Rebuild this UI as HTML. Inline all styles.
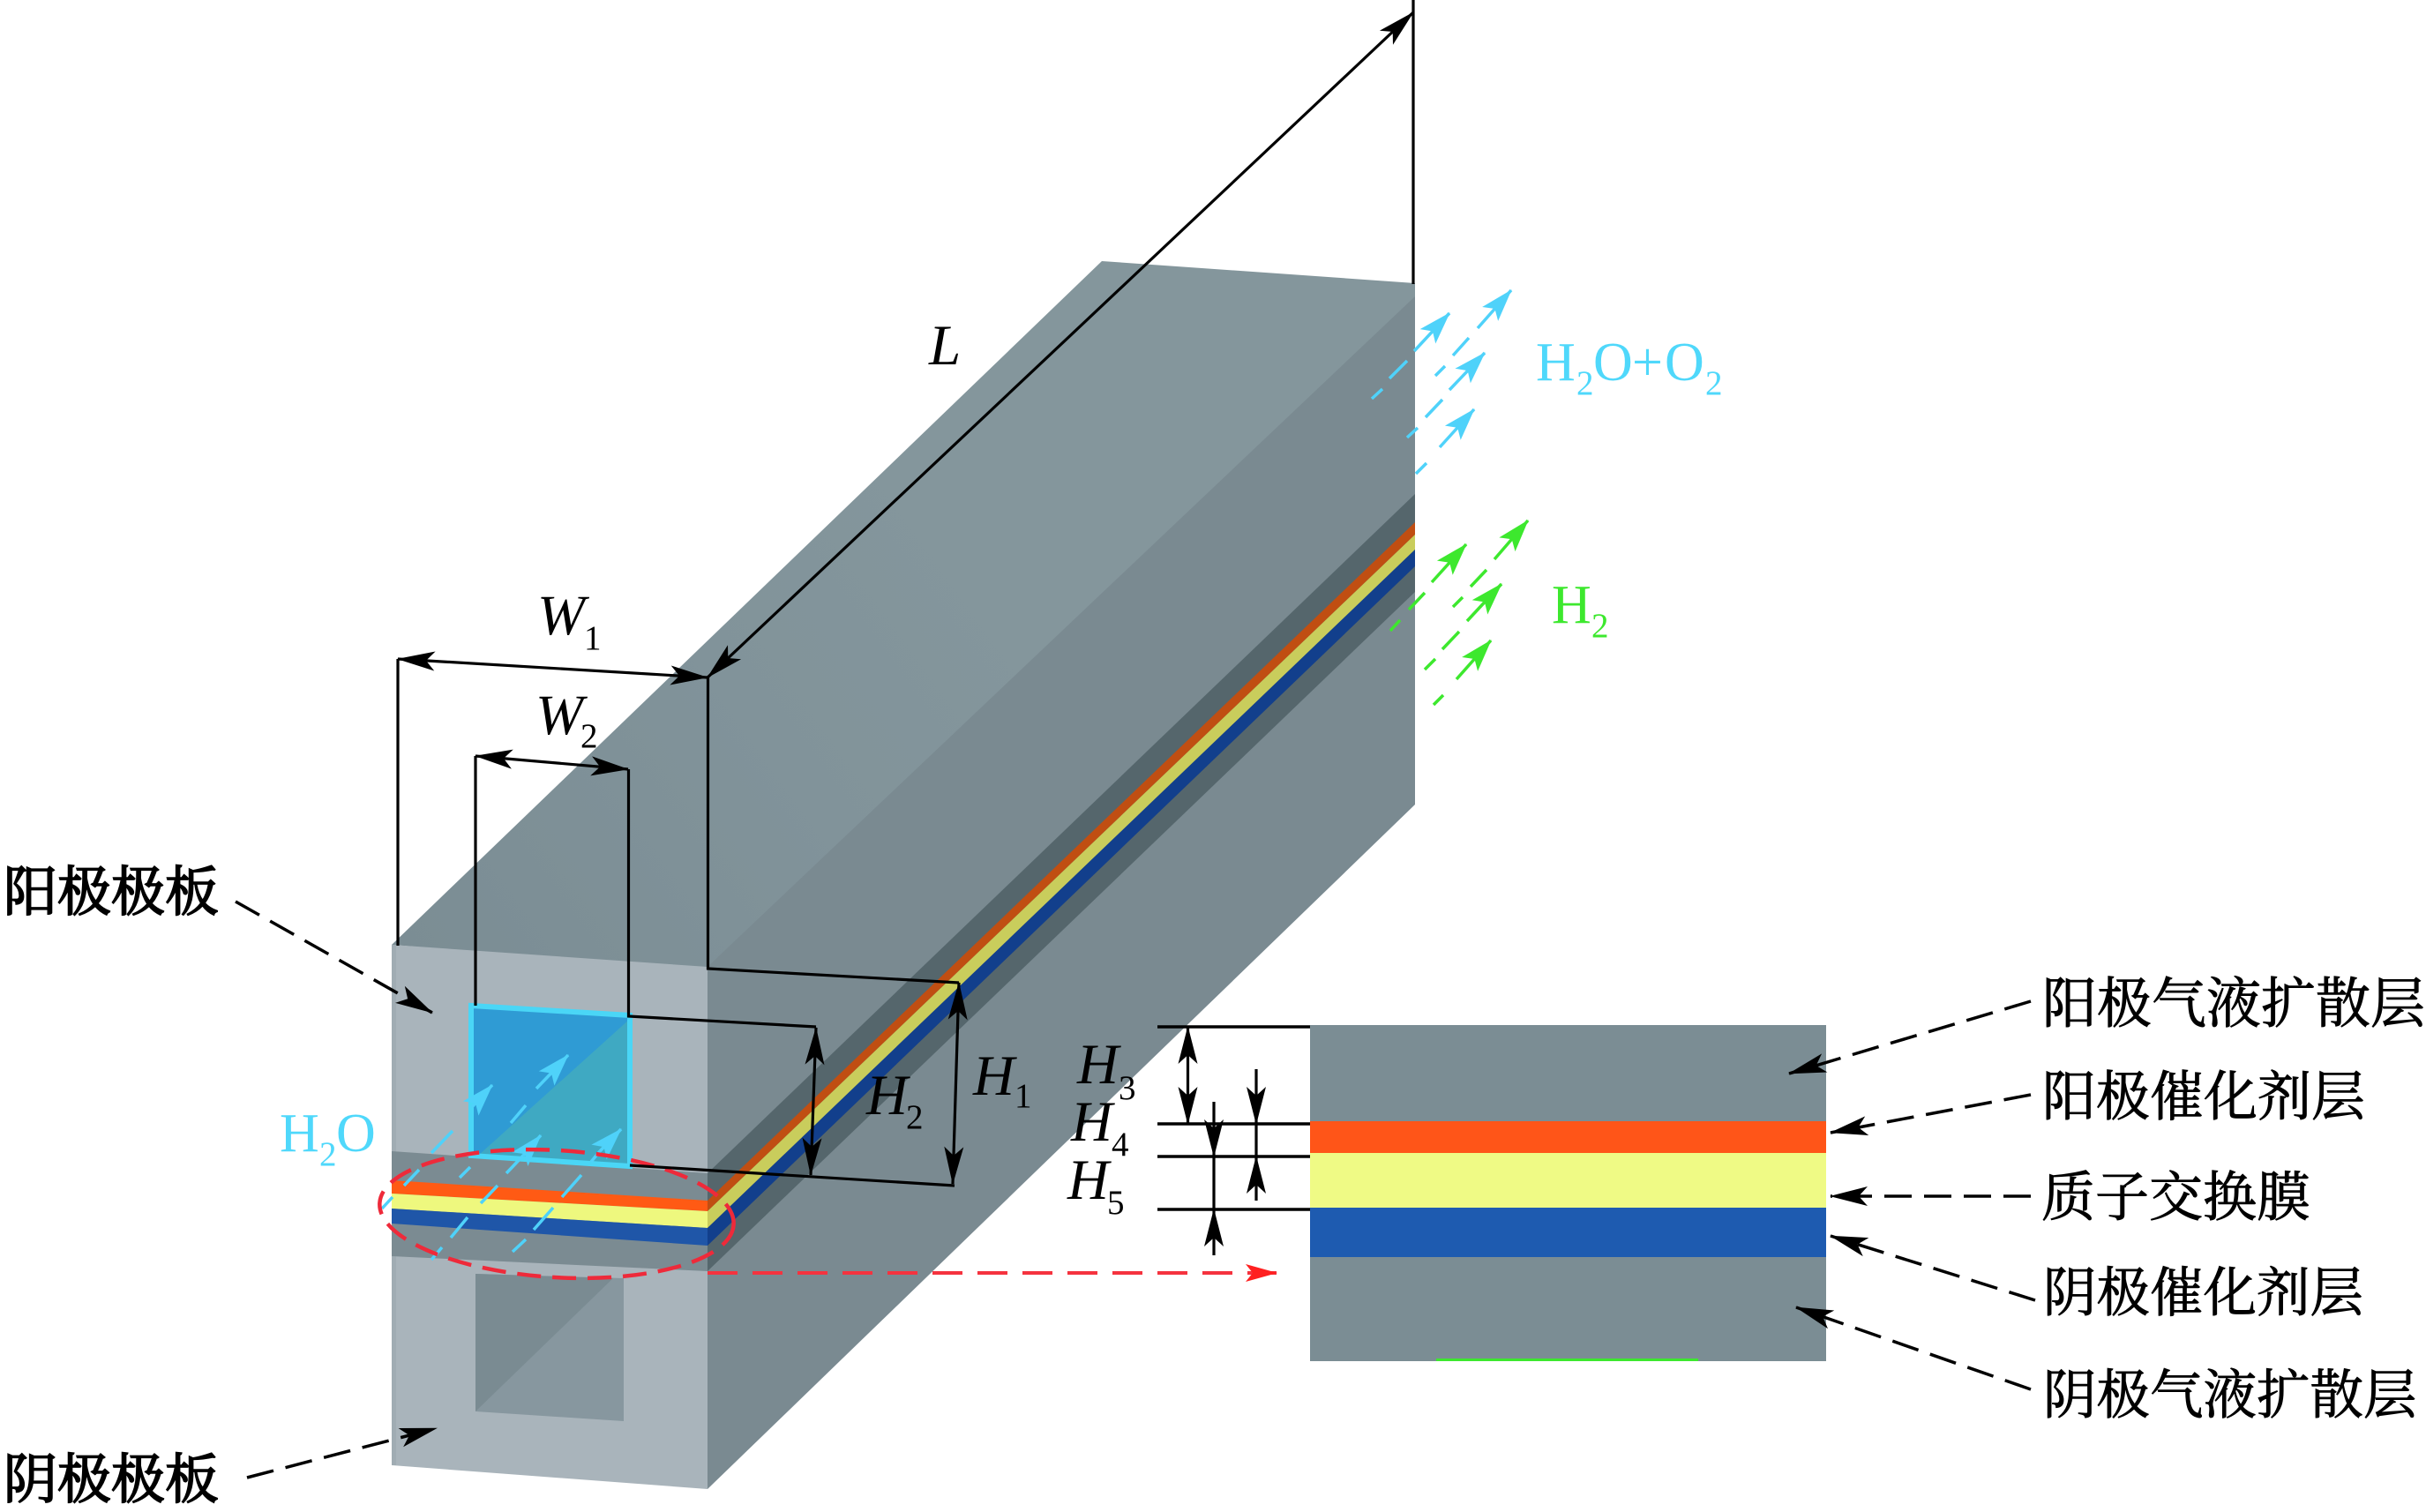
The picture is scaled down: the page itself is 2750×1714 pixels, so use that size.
<!DOCTYPE html>
<html><head><meta charset="utf-8"><style>
html,body{margin:0;padding:0;background:#fff;width:2750px;height:1714px;overflow:hidden}
svg{display:block}
.l{font-family:"Liberation Serif",serif;font-size:62px}
.i{font-style:italic;font-size:65px}
.s{font-family:"Liberation Serif",serif;font-size:39px}
.c{font-family:"Noto Serif CJK SC","Liberation Serif",serif;font-size:61px;fill:#000;stroke:#000;stroke-width:.9px}
</style></head><body>
<svg width="2750" height="1714" viewBox="0 0 2750 1714" xmlns="http://www.w3.org/2000/svg">
<defs>
<linearGradient id="top" x1="450" y1="1070" x2="1100" y2="600" gradientUnits="userSpaceOnUse"><stop offset="0" stop-color="#7b8d94"/><stop offset=".6" stop-color="#81939a"/><stop offset="1" stop-color="#84969c"/></linearGradient>
<marker id="k" markerUnits="userSpaceOnUse" markerWidth="48" markerHeight="30" refX="42" refY="15" orient="auto-start-reverse" overflow="visible"><path d="M43,15 L0,4 L10,15 L0,26 Z" fill="#000"/></marker>
<marker id="b" markerUnits="userSpaceOnUse" markerWidth="44" markerHeight="30" refX="36" refY="15" orient="auto" overflow="visible"><path d="M37,15 L0,3 L8,15 L0,27 Z" fill="#4fd2fa"/></marker>
<marker id="g" markerUnits="userSpaceOnUse" markerWidth="44" markerHeight="30" refX="36" refY="15" orient="auto" overflow="visible"><path d="M37,15 L0,3 L8,15 L0,27 Z" fill="#3de82e"/></marker>
<marker id="r" markerUnits="userSpaceOnUse" markerWidth="44" markerHeight="30" refX="35" refY="15" orient="auto" overflow="visible"><path d="M36,15 L0,5 L8,15 L0,25 Z" fill="#ff2020"/></marker>
</defs>

<!-- top face -->
<polygon points="444,1071 1249,296 1604,321 1604,340 802,1100" fill="url(#top)"/>
<!-- right face -->
<polygon points="802,1096 1604,336 1604,912 802,1688" fill="#7a8a91"/>
<!-- band on right -->
<polygon points="802,1330 1604,560 1604,671 802,1441" fill="#55666c"/>
<polygon points="802,1361 1604,592 1604,606 802,1373" fill="#c04e12"/>
<polygon points="802,1373 1604,606 1604,623 802,1392" fill="#c9cd5c"/>
<polygon points="802,1392 1604,623 1604,642 802,1412" fill="#123f8c"/>
<!-- front face -->
<polygon points="444,1071 802,1096 802,1688 444,1661" fill="#a9b4bb"/>
<polygon points="444,1071 449,1071 449,1661 444,1661" fill="#a0acb3"/>
<!-- band on front -->
<polygon points="444,1305 802,1330 802,1441 444,1424" fill="#7b8b92"/>
<polygon points="444,1338 802,1361 802,1373 444,1353" fill="#ff5a14"/>
<polygon points="444,1353 802,1373 802,1392 444,1370" fill="#eef87e"/>
<polygon points="444,1370 802,1392 802,1412 444,1387" fill="#1f56a8"/>
<!-- lower channel -->
<polygon points="539,1444 707,1449 707,1611 539,1600" fill="#87979f"/>
<polygon points="539,1444 695,1449 539,1600" fill="#7a8b92"/>
<!-- window -->
<polygon points="534,1140 714,1151 714,1322 534,1310" fill="#3fa9c2"/>
<polygon points="534,1140 714,1151 714,1155 542,1310 534,1310" fill="#2f9bd4"/>
<polygon points="534,1140 714,1151 714,1322 534,1310" fill="none" stroke="#4ad6f6" stroke-width="6"/>

<!-- cyan inlet arrows -->
<g fill="none" stroke="#4fd2fa" stroke-width="3.5">
<path d="M433,1370L445,1357M458,1344L475,1326M489,1307L513,1282"/>
<path d="M632,1209L608,1234M596,1253L579,1273M533,1323L521,1335"/>
<path d="M593,1310L574,1330M564,1344L545,1364M530,1380L511,1403M501,1414L489,1428"/>
<path d="M680,1305L670,1317M659,1332L637,1357M627,1369L605,1394M596,1405L581,1419"/>
<line x1="535" y1="1255" x2="558" y2="1230" marker-end="url(#b)"/>
<line x1="632" y1="1209" x2="644" y2="1196" marker-end="url(#b)"/>
<line x1="593" y1="1310" x2="613" y2="1287" marker-end="url(#b)"/>
<line x1="680" y1="1305" x2="704" y2="1280" marker-end="url(#b)"/>
</g>
<!-- cyan outlet -->
<g fill="none" stroke="#4fd2fa" stroke-width="3.5">
<path d="M1575,429L1595,409M1555,452L1567,441"/>
<line x1="1603" y1="398" x2="1643" y2="355" marker-end="url(#b)"/>
<path d="M1647,403L1665,383M1627,426L1638,415"/>
<line x1="1675" y1="372" x2="1713" y2="329" marker-end="url(#b)"/>
<path d="M1616,473L1635,453M1595,496L1607,485"/>
<line x1="1643" y1="442" x2="1683" y2="400" marker-end="url(#b)"/>
<path d="M1605,537L1617,525"/>
<line x1="1632" y1="507" x2="1671" y2="464" marker-end="url(#b)"/>
</g>
<!-- green outlet -->
<g fill="none" stroke="#3de82e" stroke-width="3.5">
<path d="M1597,691L1615,672M1576,715L1587,703"/>
<line x1="1623" y1="660" x2="1662" y2="617" marker-end="url(#g)"/>
<path d="M1667,665L1685,646M1647,688L1658,677"/>
<line x1="1694" y1="634" x2="1732" y2="590" marker-end="url(#g)"/>
<path d="M1635,736L1654,716M1615,759L1627,747"/>
<line x1="1663" y1="704" x2="1702" y2="662" marker-end="url(#g)"/>
<path d="M1625,799L1636,788"/>
<line x1="1651" y1="770" x2="1690" y2="726" marker-end="url(#g)"/>
</g>

<!-- red ellipse & arrow -->
<ellipse cx="631" cy="1376" rx="201" ry="72" transform="rotate(3.5 631 1376)" fill="none" stroke="#ee2a3a" stroke-width="4.5" stroke-dasharray="27 13"/>
<line x1="802" y1="1443" x2="1447" y2="1443" stroke="#f5333f" stroke-width="4" stroke-dasharray="34 17" marker-end="url(#r)"/>

<!-- detail block -->
<rect x="1485" y="1162" width="585" height="381" fill="#7b8d94"/>
<rect x="1485" y="1271" width="585" height="36" fill="#ff5518"/>
<rect x="1485" y="1307" width="585" height="62" fill="#effa85"/>
<rect x="1485" y="1369" width="585" height="56" fill="#1e5bb0"/>
<rect x="1628" y="1540" width="297" height="3" fill="#3de82e"/>

<!-- dimension lines -->
<g fill="none" stroke="#000" stroke-width="3.2">
<path d="M451,747V1072"/>
<path d="M539,857V1140"/>
<path d="M712.5,872V1152L925,1164"/>
<path d="M802.5,768V1098L1087,1114"/>
<path d="M1602,0V322"/>
<path d="M714,1321L1082,1344"/>
<line x1="451" y1="747" x2="802" y2="768" marker-start="url(#k)" marker-end="url(#k)"/>
<line x1="539" y1="857" x2="712" y2="872" marker-start="url(#k)" marker-end="url(#k)"/>
<line x1="802" y1="768" x2="1602" y2="14" marker-start="url(#k)" marker-end="url(#k)"/>
<line x1="925" y1="1165" x2="919" y2="1332" marker-start="url(#k)" marker-end="url(#k)"/>
<line x1="1087" y1="1114" x2="1080" y2="1342" marker-start="url(#k)" marker-end="url(#k)"/>
<path d="M1312,1164H1485M1312,1274H1485M1312,1311H1485M1312,1371H1485" stroke-width="3.5"/>
<line x1="1346.5" y1="1164" x2="1346.5" y2="1274" marker-start="url(#k)" marker-end="url(#k)"/>
<line x1="1424" y1="1212" x2="1424" y2="1274" marker-end="url(#k)"/>
<line x1="1424" y1="1361" x2="1424" y2="1311" marker-end="url(#k)"/>
<line x1="1424" y1="1274" x2="1424" y2="1311"/>
<line x1="1376" y1="1249" x2="1376" y2="1311" marker-end="url(#k)"/>
<line x1="1376" y1="1423" x2="1376" y2="1371" marker-end="url(#k)"/>
<line x1="1376" y1="1311" x2="1376" y2="1371"/>
</g>

<!-- leader arrows -->
<g fill="none" stroke="#000" stroke-width="3.5" stroke-dasharray="31 14">
<line x1="267" y1="1022" x2="490" y2="1148" marker-end="url(#k)"/>
<line x1="280" y1="1675" x2="495" y2="1619" marker-end="url(#k)"/>
<line x1="2302" y1="1135" x2="2028" y2="1217" marker-end="url(#k)"/>
<line x1="2302" y1="1241" x2="2075" y2="1284" marker-end="url(#k)"/>
<line x1="2302" y1="1356" x2="2075" y2="1356" marker-end="url(#k)"/>
<line x1="2307" y1="1474" x2="2075" y2="1401" marker-end="url(#k)"/>
<line x1="2302" y1="1575" x2="2036" y2="1482" marker-end="url(#k)"/>
</g>

<!-- labels -->
<text class="l i" x="1053" y="413">L</text>
<text class="l i" x="609" y="719">W</text><text class="s" x="662" y="736">1</text>
<text class="l i" x="607" y="832">W</text><text class="s" x="658" y="847">2</text>
<text class="l i" x="982" y="1263">H</text><text class="s" x="1027" y="1279">2</text>
<text class="l i" x="1103" y="1241">H</text><text class="s" x="1150" y="1255">1</text>
<text class="l i" x="1221" y="1228">H</text><text class="s" x="1268" y="1246">3</text>
<text class="l i" x="1214" y="1293">H</text><text class="s" x="1260" y="1310">4</text>
<text class="l i" x="1210" y="1359">H</text><text class="s" x="1255" y="1376">5</text>

<g fill="#4fd8fb">
<text class="l" x="317" y="1305">H</text><text class="s" x="362" y="1321">2</text><text class="l" x="381" y="1305">O</text>
<text class="l" x="1741" y="431">H</text><text class="s" x="1787" y="447">2</text><text class="l" x="1806" y="431">O</text><text class="l" x="1850" y="431">+</text><text class="l" x="1887" y="431">O</text><text class="s" x="1933" y="447">2</text>
</g>
<g fill="#3de82e">
<text class="l" x="1759" y="706">H</text><text class="s" x="1804" y="722">2</text>
</g>

<text class="c" x="4" y="1032" style="stroke-width:1.8px">阳极极板</text>
<text class="c" x="4" y="1698" style="stroke-width:1.8px">阴极极板</text>
<text class="c" x="2315" y="1159" style="font-size:62px">阳极气液扩散层</text>
<text class="c" x="2315" y="1264">阳极催化剂层</text>
<text class="c" x="2314" y="1378">质子交换膜</text>
<text class="c" x="2316" y="1486" style="font-size:60.5px">阴极催化剂层</text>
<text class="c" x="2316" y="1602" style="font-size:60.5px">阴极气液扩散层</text>
</svg>
</body></html>
